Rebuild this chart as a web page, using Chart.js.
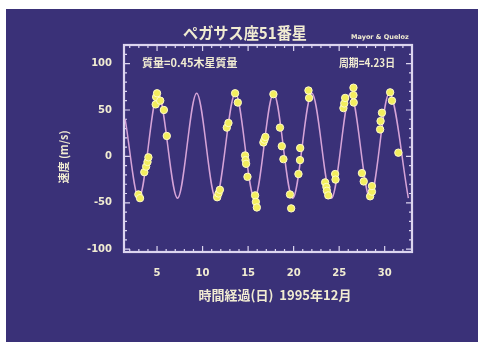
<!DOCTYPE html>
<html>
<head>
<meta charset="utf-8">
<script src="https://cdn.jsdelivr.net/npm/chart.js@4/dist/chart.umd.min.js"></script>
<style>
  body { margin: 0; background: #fff; }
  #wrap { position: absolute; left: 6px; top: 9px; width: 472px; height: 333px; background: #3a3178; }
</style>
</head>
<body>
<div id="wrap"><canvas id="c" width="472" height="333"></canvas></div>
<script>
/* global Chart */

// observed radial velocities (day, m/s)
const obsDays = [2.95, 3.13, 3.6, 3.8, 3.95, 4.05, 4.85, 4.9, 5.0, 5.35, 5.75, 6.07,
  11.6, 11.75, 11.9, 12.66, 12.84, 13.57, 13.87, 14.67, 14.72, 14.78, 14.93, 15.77, 15.85, 15.96,
  16.68, 16.8, 16.9, 17.78, 18.5, 18.7, 18.88, 19.6, 19.73,
  20.53, 20.7, 20.72, 21.63, 21.7,
  23.46, 23.6, 23.65, 23.8, 24.56, 24.6, 25.47, 25.56, 25.66, 26.57, 26.57, 26.6,
  27.5, 27.7, 28.4, 28.6, 28.6, 29.5, 29.55, 29.7, 30.6, 30.8, 31.5]
const obsSpeeds = [-41, -45, -17, -11, -6, -1, 56, 64, 68, 60, 50, 22,
  -44, -40, -36, 31, 36, 68, 58, 1, -4, -8, -22, -42, -49, -55,
  15, 18, 21, 67, 31, 11, -3, -41, -56,
  -19, -4, 9, 71, 63,
  -28, -33, -37, -42, -19, -25, 52, 57, 63, 74, 66, 58,
  -18, -27, -43, -38, -32, 29, 38, 47, 69, 60, 4]

// fitted orbit curve: start, then alternating troughs and peaks
const fitDays = [1.5, 3.0, 5.1, 7.25, 9.35, 11.45, 13.6, 15.7, 17.8, 19.9, 22.0, 24.15, 26.25, 28.4, 30.5, 32.6]
const fitSpeeds = [40, -45, 68, -45, 68, -45, 68, -45, 68, -45, 68, -45, 68, -45, 68, -45]

const xTicks = [5, 10, 15, 20, 25, 30]
const yTicks = [-100, -50, 0, 50, 100]

const CREAM = '#f1ecd2'
const FRAME = '#dcd5ef'
const JP = '"Noto Sans CJK JP", "Noto Sans", sans-serif'

const frame = {
  id: 'frame',
  beforeDatasetsDraw (chart) {
    const { ctx, chartArea: a, scales: { x, y } } = chart
    ctx.save()
    ctx.strokeStyle = FRAME
    ctx.lineWidth = 1.2
    ctx.beginPath()
    for (let d = 2; d <= 33; d++) {
      const px = x.getPixelForValue(d)
      const len = d % 5 === 0 ? 6 : 3
      ctx.moveTo(px, a.bottom); ctx.lineTo(px, a.bottom - len)
      ctx.moveTo(px, a.top); ctx.lineTo(px, a.top + len)
    }
    for (let v = -100; v <= 120; v += 10) {
      const py = y.getPixelForValue(v)
      const len = v % 50 === 0 ? 6 : 3
      ctx.moveTo(a.left, py); ctx.lineTo(a.left + len, py)
      ctx.moveTo(a.right, py); ctx.lineTo(a.right - len, py)
    }
    ctx.stroke()
    ctx.lineWidth = 2.2
    ctx.strokeRect(a.left, a.top, a.right - a.left, a.bottom - a.top)
    ctx.restore()
  },
  afterDraw (chart) {
    const { ctx, chartArea: a } = chart
    ctx.save()
    ctx.fillStyle = CREAM
    ctx.textBaseline = 'middle'
    ctx.textAlign = 'center'
    ctx.font = 'bold 16px ' + JP
    ctx.fillText('ペガサス座51番星', 239, 24, 124)
    ctx.font = 'bold 6.5px "DejaVu Sans", sans-serif'
    ctx.textAlign = 'left'
    ctx.fillText('Mayor & Queloz', 345, 28)
    ctx.font = 'bold 11px ' + JP
    ctx.fillText('質量=0.45木星質量', a.left + 18, 54, 111)
    ctx.textAlign = 'right'
    ctx.fillText('周期=4.23日', a.right - 17, 54, 56)
    ctx.textAlign = 'center'
    ctx.font = 'bold 13px ' + JP
    ctx.fillText('時間経過(日)  1995年12月', 269, 286, 184)
    ctx.translate(58, 148)
    ctx.rotate(-Math.PI / 2)
    ctx.font = 'bold 11px ' + JP
    ctx.fillText('速度 (m/s)', 0, 0, 78)
    ctx.restore()
  }
}

const observed = obsDays.map((d, i) => ({ x: d, y: obsSpeeds[i] }))
const fitted = fitDays.map((d, i) => ({ x: d, y: fitSpeeds[i] }))

new Chart(document.getElementById('c'), {
  type: 'scatter',
  data: {
    datasets: [{
      data: observed,
      order: 0,
      pointRadius: 3.7,
      backgroundColor: '#f3ee5e',
      borderColor: '#fffbc6',
      borderWidth: 1
    }, {
      data: fitted,
      order: 1,
      showLine: true,
      pointRadius: 0,
      borderColor: '#d6a4d8',
      borderWidth: 1.5,
      cubicInterpolationMode: 'monotone'
    }]
  },
  options: {
    responsive: false,
    animation: false,
    layout: { padding: { top: 36, right: 66, left: 0, bottom: 0 } },
    plugins: { legend: { display: false }, tooltip: { enabled: false } },
    scales: {
      x: {
        type: 'linear',
        min: 1.37,
        max: 33,
        afterBuildTicks: s => { s.ticks = xTicks.map(v => ({ value: v })) },
        afterFit: s => { s.height = 90 },
        grid: { display: false },
        border: { display: false },
        ticks: { color: CREAM, padding: 7, maxRotation: 0, font: { family: 'DejaVu Sans', size: 10, weight: 'bold' } }
      },
      y: {
        min: -103,
        max: 120,
        afterBuildTicks: s => { s.ticks = yTicks.map(v => ({ value: v })) },
        afterFit: s => { s.width = 118 },
        grid: { display: false },
        border: { display: false },
        ticks: { color: CREAM, padding: 4, font: { family: 'DejaVu Sans', size: 10, weight: 'bold' } }
      }
    }
  },
  plugins: [frame]
})
</script>
</body>
</html>
